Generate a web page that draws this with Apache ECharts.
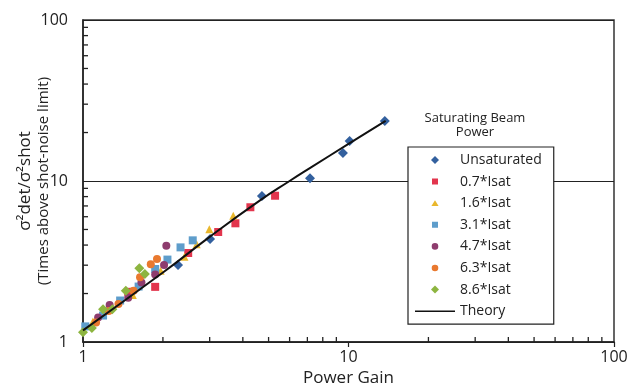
<!DOCTYPE html>
<html><head><meta charset="utf-8">
<script src="https://cdn.jsdelivr.net/npm/echarts@6/dist/echarts.min.js"></script>
<style>html,body{margin:0;padding:0;background:#fff}#c{width:630px;height:387px}</style>
</head><body><div id="c"></div>
<script>
// Data
var unsatX = [2.28, 3.01, 4.72, 7.16, 9.53, 10.1, 13.7];
var unsatY = [3.01, 4.36, 8.07, 10.4, 14.9, 17.7, 23.6];
var sat07X = [1.48, 1.87, 2.49, 3.23, 3.75, 4.27, 5.29];
var sat07Y = [2.05, 2.20, 3.57, 4.82, 5.46, 6.87, 8.1];
var sat16X = [1.09, 1.54, 1.96, 2.41, 2.68, 2.99, 3.68];
var sat16Y = [1.34, 1.96, 2.77, 3.39, 4.04, 5.01, 6.09];
var sat31X = [1.02, 1.19, 1.38, 1.62, 1.87, 2.08, 2.33, 2.59];
var sat31Y = [1.25, 1.46, 1.81, 2.21, 2.84, 3.25, 3.87, 4.28];
var sat47X = [1.14, 1.26, 1.48, 1.66, 1.87, 2.02, 2.06];
var sat47Y = [1.42, 1.70, 1.88, 2.34, 2.63, 3.01, 3.96];
var sat63X = [1.12, 1.25, 1.36, 1.55, 1.64, 1.80, 1.90];
var sat63Y = [1.32, 1.56, 1.72, 2.08, 2.52, 3.04, 3.28];
var sat86X = [1.0, 1.08, 1.19, 1.29, 1.45, 1.63, 1.71];
var sat86Y = [1.15, 1.22, 1.60, 1.60, 2.08, 2.87, 2.64];
var theoryX = [1, 2, 3, 4.6, 6, 7.2, 10, 13.8];
var theoryY = [1.18, 2.7, 4.5, 7.5, 10, 12.1, 17.0, 23.6];
var minorTicks = [2, 3, 4, 5, 6, 7, 8, 9, 20, 30, 40, 50, 60, 70, 80, 90];
var seriesNames = ['Unsaturated', '0.7*Isat', '1.6*Isat', '3.1*Isat', '4.7*Isat', '6.3*Isat', '8.6*Isat', 'Theory'];

function zip(a, b) { return a.map(function (v, i) { return [v, b[i]]; }); }

var FONT = '"Open Sans", "DejaVu Sans", sans-serif';
var chart = echarts.init(document.getElementById('c'), null, { renderer: 'canvas' });

// legend icons: shape centred in a 40x8 box (invisible end points keep box width)
var PAD = 'M0,4 L0.001,4 M40,4 L39.999,4 ';
var ICONS = {
  diamond: 'path://' + PAD + 'M20,0 L24,4 L20,8 L16,4 Z',
  rect: 'path://' + PAD + 'M17,1 L23,1 L23,7 L17,7 Z',
  triangle: 'path://' + PAD + 'M20,1.2 L23.6,7 L16.4,7 Z',
  circle: 'path://' + PAD + 'M16.7,4 A3.3,3.3 0 1 1 23.3,4 A3.3,3.3 0 1 1 16.7,4 Z',
  line: 'path://' + PAD + 'M0,3.2 L40,3.2 L40,4.8 L0,4.8 Z'
};
var legendIcons = ['diamond', 'rect', 'triangle', 'rect', 'circle', 'circle', 'diamond', 'line'];

function scatter(name, xs, ys, symbol, size, color) {
  return {
    name: name, type: 'scatter', data: zip(xs, ys), symbol: symbol, symbolSize: size,
    itemStyle: { color: color, opacity: 1 }, clip: false, z: 3
  };
}

function tickSeries(axis) {
  return {
    name: axis + 'MinorTicks', type: 'custom', silent: true, clip: false, z: 5,
    coordinateSystem: 'cartesian2d', encode: { x: 0, y: 1 },
    data: minorTicks.map(function (v) { return axis === 'x' ? [v, 1] : [1, v]; }),
    renderItem: function (params, api) {
      var p = api.coord([api.value(0), api.value(1)]);
      var shape = axis === 'x'
        ? { x1: p[0], y1: p[1], x2: p[0], y2: p[1] - 5 }
        : { x1: p[0], y1: p[1], x2: p[0] + 5, y2: p[1] };
      return { type: 'line', shape: shape, style: { stroke: '#222', lineWidth: 1.3 } };
    }
  };
}

var legendData = seriesNames.map(function (n, i) {
  return { name: n, icon: ICONS[legendIcons[i]] };
});

var option = {
  backgroundColor: '#fff',
  animation: false,
  textStyle: { fontFamily: FONT },
  title: {
    text: 'Saturating Beam\nPower', left: 470, top: 106, textAlign: 'center',
    textStyle: { fontFamily: FONT, fontSize: 13, fontWeight: 'normal', color: '#222', lineHeight: 14 }
  },
  grid: { left: 83, right: 16, top: 20, bottom: 45, show: true, borderColor: '#333', borderWidth: 1.5,
    backgroundColor: 'transparent', containLabel: false, outerBoundsMode: 'none' },
  legend: {
    data: legendData, orient: 'vertical', left: 408, top: 147,
    padding: [6, 12, 6, 7], itemGap: 7.6, itemWidth: 40, itemHeight: 8,
    backgroundColor: '#fff', borderColor: '#222', borderWidth: 1.2,
    textStyle: { fontFamily: FONT, fontSize: 14, color: '#222' },
    selectedMode: false
  },
  xAxis: {
    type: 'log', logBase: 10, min: 1, max: 100,
    name: 'Power Gain', nameLocation: 'middle', nameGap: 25,
    nameTextStyle: { fontFamily: FONT, fontSize: 17, color: '#222' },
    axisLine: { lineStyle: { color: '#222', width: 1.5 } },
    axisTick: { show: true, length: 5, lineStyle: { color: '#222', width: 1.2 } },
    axisLabel: { fontFamily: FONT, fontSize: 16, color: '#222', margin: 7 },
    splitLine: { show: false }
  },
  yAxis: {
    type: 'log', logBase: 10, min: 1, max: 100,
    name: 'σ²det/σ²shot\n{b|(Times above shot-noise limit)}',
    nameLocation: 'middle', nameRotate: 90, nameGap: 30, nameMoveOverlap: false,
    nameTextStyle: { fontFamily: FONT, fontSize: 17, color: '#222', lineHeight: 19, align: 'center',
      rich: { b: { fontFamily: FONT, fontSize: 15, color: '#222', lineHeight: 18 } } },
    axisLine: { lineStyle: { color: '#222', width: 1.5 } },
    axisTick: { show: false },
    axisLabel: { fontFamily: FONT, fontSize: 16, color: '#222', margin: 15 },
    splitLine: { show: true, lineStyle: { color: '#222', width: 1.2 } }
  },
  series: [
    scatter('Unsaturated', unsatX, unsatY, 'diamond', 10, '#33609e'),
    scatter('0.7*Isat', sat07X, sat07Y, 'rect', 8, '#e2354d'),
    scatter('1.6*Isat', sat16X, sat16Y, 'triangle', 8, '#e9b72c'),
    scatter('3.1*Isat', sat31X, sat31Y, 'rect', 8, '#5e9dcb'),
    scatter('4.7*Isat', sat47X, sat47Y, 'circle', 8, '#8e3c6e'),
    scatter('6.3*Isat', sat63X, sat63Y, 'circle', 8, '#e9792f'),
    scatter('8.6*Isat', sat86X, sat86Y, 'diamond', 10, '#8db540'),
    {
      name: 'Theory', type: 'line', data: zip(theoryX, theoryY), smooth: true,
      symbol: 'none', showSymbol: false, lineStyle: { color: '#111', width: 2 },
      itemStyle: { color: '#111' }, z: 4
    },
    tickSeries('x'),
    tickSeries('y')
  ]
};
chart.setOption(option);
</script>
</body></html>
